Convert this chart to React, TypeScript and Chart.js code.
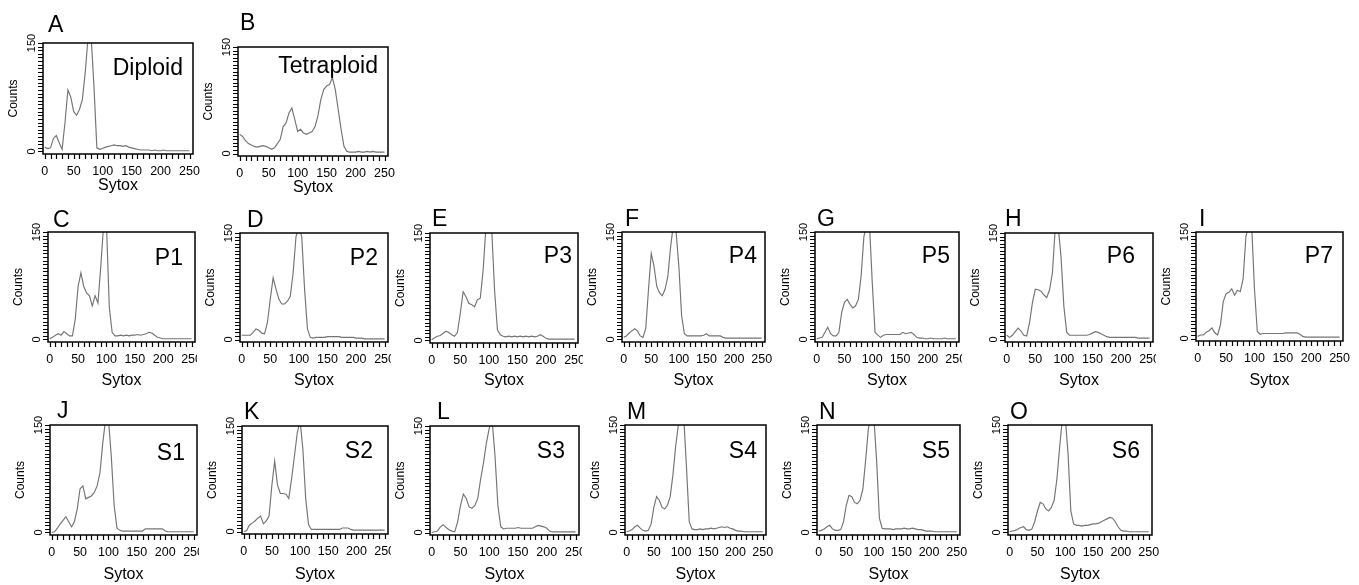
import React, { useEffect, useRef } from "react";
import { Chart, registerables } from "chart.js";
Chart.register(...registerables);

const FONT = "'Liberation Sans', Arial, Helvetica, sans-serif";
const LINE_COLOR = "#747474";

// Sytox channel (x) for each sample
const sytoxChannels = [0, 5, 10, 15, 20, 25, 30, 35, 40, 45, 50, 55, 60, 65, 70, 75, 80, 85, 90, 95, 100, 105, 110, 115, 120, 125, 130, 135, 140, 145, 150, 155, 160, 165, 170, 175, 180, 185, 190, 195, 200, 205, 210, 215, 220, 225, 230, 235, 240, 245, 250];
const xTickValues = [0, 10, 20, 30, 40, 50, 60, 70, 80, 90, 100, 110, 120, 130, 140, 150, 160, 170, 180, 190, 200, 210, 220, 230, 240, 250];
const xLabelValues = [0, 50, 100, 150, 200, 250];
const yTickValues = [0, 5, 10, 15, 20, 25, 30, 35, 40, 45, 50, 55, 60, 65, 70, 75, 80, 85, 90, 95, 100, 105, 110, 115, 120, 125, 130, 135, 140, 145, 150];
const yLabelValues = [0, 150];

// Counts per channel
const diploidA = [6, 4, 5, 18, 22, 12, 3, 40, 85, 75, 55, 50, 58, 72, 110, 160, 160, 90, 5, 3, 4, 6, 7, 8, 9, 8, 8, 7, 8, 6, 5, 4, 3, 2, 2, 2, 2, 1, 2, 1, 1, 2, 1, 1, 1, 1, 1, 1, 1, 1, 1];
const tetraploidB = [27, 24, 18, 14, 12, 10, 9, 10, 11, 10, 8, 6, 8, 14, 20, 38, 43, 57, 64, 48, 31, 34, 29, 27, 29, 31, 38, 53, 76, 90, 95, 97, 107, 90, 62, 34, 10, 3, 2, 2, 2, 3, 2, 2, 3, 2, 3, 2, 2, 2, 2];
const p1C = [1, 3, 6, 8, 6, 11, 8, 5, 5, 28, 74, 93, 74, 65, 61, 47, 61, 51, 102, 160, 160, 45, 10, 5, 5, 6, 5, 6, 5, 6, 6, 7, 6, 7, 8, 10, 9, 6, 3, 2, 1, 1, 1, 1, 1, 1, 1, 1, 1, 1, 1];
const p2D = [6, 6, 6, 6, 10, 15, 13, 9, 8, 24, 57, 87, 71, 57, 50, 50, 54, 61, 94, 145, 158, 145, 71, 15, 3, 2, 3, 3, 3, 3, 4, 4, 4, 4, 4, 3, 3, 3, 3, 3, 2, 2, 2, 1, 1, 1, 1, 1, 1, 1, 1];
const p3E = [1, 4, 6, 7, 10, 13, 11, 8, 6, 11, 38, 68, 61, 52, 50, 47, 57, 59, 98, 160, 160, 155, 70, 15, 8, 6, 5, 6, 5, 6, 5, 6, 5, 6, 5, 6, 5, 6, 8, 6, 3, 2, 2, 2, 2, 2, 2, 2, 2, 2, 2];
const p4F = [3, 5, 9, 12, 15, 12, 5, 3, 15, 70, 120, 102, 74, 65, 61, 70, 88, 129, 160, 150, 102, 33, 8, 5, 5, 5, 5, 5, 5, 6, 8, 5, 5, 5, 5, 5, 3, 2, 2, 2, 2, 2, 2, 2, 2, 2, 2, 2, 2, 2, 2];
const p5G = [1, 2, 3, 10, 17, 8, 5, 5, 10, 38, 52, 56, 49, 44, 47, 56, 89, 144, 160, 160, 79, 10, 6, 3, 6, 7, 7, 7, 7, 7, 7, 10, 8, 9, 10, 7, 3, 2, 2, 1, 1, 2, 1, 1, 1, 1, 2, 1, 1, 1, 1];
const p6H = [6, 3, 6, 11, 16, 12, 6, 5, 24, 52, 71, 70, 68, 63, 59, 70, 94, 158, 160, 117, 47, 10, 6, 6, 6, 6, 6, 6, 6, 7, 9, 11, 10, 8, 6, 4, 3, 3, 3, 3, 3, 3, 3, 3, 3, 3, 2, 2, 2, 2, 2];
const p7I = [3, 5, 5, 9, 11, 15, 8, 5, 19, 52, 63, 65, 70, 61, 68, 66, 84, 144, 160, 160, 70, 10, 6, 7, 7, 7, 7, 7, 7, 7, 7, 8, 8, 8, 8, 8, 6, 3, 2, 2, 2, 2, 2, 2, 2, 2, 2, 2, 2, 2, 2];
const s1J = [0, 1, 6, 12, 17, 22, 15, 8, 15, 33, 61, 65, 47, 49, 51, 56, 65, 83, 125, 158, 158, 106, 38, 6, 3, 2, 2, 2, 2, 2, 2, 2, 2, 5, 5, 5, 5, 5, 5, 5, 2, 1, 1, 1, 1, 1, 1, 1, 1, 1, 1];
const s2K = [0, 1, 9, 12, 15, 19, 22, 11, 15, 22, 66, 100, 66, 54, 54, 53, 47, 75, 107, 140, 158, 117, 47, 10, 3, 3, 3, 3, 3, 3, 3, 3, 3, 3, 3, 5, 5, 5, 3, 2, 2, 2, 2, 2, 2, 2, 2, 2, 2, 2, 2];
const s3L = [0, 1, 2, 8, 11, 7, 4, 2, 1, 15, 38, 54, 48, 36, 34, 38, 48, 75, 98, 126, 147, 158, 108, 38, 8, 5, 6, 6, 6, 6, 7, 6, 6, 6, 6, 6, 8, 10, 9, 8, 6, 2, 1, 1, 1, 1, 1, 1, 1, 1, 1];
const s4M = [1, 2, 4, 8, 10, 6, 3, 2, 3, 12, 35, 50, 45, 35, 33, 38, 50, 80, 120, 150, 160, 160, 90, 15, 5, 4, 4, 5, 4, 5, 5, 6, 5, 6, 7, 8, 7, 8, 6, 5, 3, 2, 2, 1, 1, 1, 1, 1, 1, 1, 1];
const s5N = [2, 3, 5, 8, 10, 5, 3, 3, 4, 15, 38, 52, 50, 42, 40, 45, 60, 100, 145, 160, 160, 100, 20, 6, 5, 5, 5, 4, 5, 5, 5, 6, 5, 5, 6, 5, 4, 4, 3, 2, 2, 2, 1, 1, 1, 1, 1, 1, 1, 1, 1];
const s6O = [1, 2, 3, 5, 7, 8, 4, 3, 5, 15, 30, 42, 40, 33, 30, 35, 45, 75, 120, 160, 160, 110, 30, 12, 10, 10, 9, 10, 10, 11, 12, 12, 13, 15, 17, 19, 21, 20, 15, 8, 3, 2, 2, 1, 1, 1, 1, 1, 1, 1, 1];

type Panel = {
  letter: string;
  label: string;
  values: number[];
  box: [number, number, number, number];
  letterX: number;
  letterY: number;
  labelRight: number;
  labelY: number;
  sytoxY: number;
  clipRight: number | null;
};

const panels: Panel[] = [
  { letter: "A", label: "Diploid", values: diploidA, box: [43, 43, 193, 154], letterX: 48, letterY: 32, labelRight: 183, labelY: 75, sytoxY: 186, clipRight: null },
  { letter: "B", label: "Tetraploid", values: tetraploidB, box: [238, 47, 388, 156], letterX: 240, letterY: 30, labelRight: 378, labelY: 73, sytoxY: 188, clipRight: null },
  { letter: "C", label: "P1", values: p1C, box: [48, 232, 195, 342], letterX: 53, letterY: 227, labelRight: 183, labelY: 265, sytoxY: 381, clipRight: 197 },
  { letter: "D", label: "P2", values: p2D, box: [240, 233, 388, 342], letterX: 247, letterY: 227, labelRight: 378, labelY: 265, sytoxY: 381, clipRight: 391 },
  { letter: "E", label: "P3", values: p3E, box: [430, 233, 578, 343], letterX: 432, letterY: 226, labelRight: 572, labelY: 263, sytoxY: 381, clipRight: 583 },
  { letter: "F", label: "P4", values: p4F, box: [622, 232, 765, 342], letterX: 625, letterY: 226, labelRight: 757, labelY: 263, sytoxY: 381, clipRight: null },
  { letter: "G", label: "P5", values: p5G, box: [815, 232, 959, 342], letterX: 817, letterY: 226, labelRight: 950, labelY: 263, sytoxY: 381, clipRight: 962 },
  { letter: "H", label: "P6", values: p6H, box: [1005, 233, 1153, 342], letterX: 1005, letterY: 226, labelRight: 1135, labelY: 263, sytoxY: 381, clipRight: 1156 },
  { letter: "I", label: "P7", values: p7I, box: [1196, 232, 1343, 341], letterX: 1199, letterY: 226, labelRight: 1333, labelY: 263, sytoxY: 381, clipRight: null },
  { letter: "J", label: "S1", values: s1J, box: [50, 425, 197, 535], letterX: 57, letterY: 418, labelRight: 185, labelY: 460, sytoxY: 575, clipRight: 199 },
  { letter: "K", label: "S2", values: s2K, box: [242, 426, 388, 534], letterX: 244, letterY: 419, labelRight: 373, labelY: 458, sytoxY: 575, clipRight: 391 },
  { letter: "L", label: "S3", values: s3L, box: [430, 426, 579, 535], letterX: 437, letterY: 419, labelRight: 565, labelY: 458, sytoxY: 575, clipRight: 582 },
  { letter: "M", label: "S4", values: s4M, box: [625, 425, 766, 535], letterX: 627, letterY: 419, labelRight: 757, labelY: 458, sytoxY: 575, clipRight: null },
  { letter: "N", label: "S5", values: s5N, box: [817, 425, 960, 535], letterX: 819, letterY: 419, labelRight: 950, labelY: 458, sytoxY: 575, clipRight: null },
  { letter: "O", label: "S6", values: s6O, box: [1008, 425, 1152, 535], letterX: 1010, letterY: 419, labelRight: 1140, labelY: 458, sytoxY: 575, clipRight: null },
];

const PAD_L = 48;
const PAD_T = 45;
const PAD_R = 16;
const PAD_B = 55;
const TICK_LEN = 5;
const X_MIN = -3;
const X_MAX = 256;
const Y_MIN = -3.5;
const Y_MAX = 150;

function makeDecor(p: Panel, ox: number, oy: number) {
  return {
    id: "panelDecor" + p.letter,
    afterDraw(chart: any) {
      const { ctx, chartArea: a, scales } = chart;
      ctx.save();
      // tick marks at the scale's own tick positions
      ctx.strokeStyle = "#000";
      ctx.lineWidth = 1.2;
      ctx.beginPath();
      for (const t of scales.x.ticks) {
        const x = Math.round(scales.x.getPixelForValue(t.value)) + 0.5;
        ctx.moveTo(x, a.bottom);
        ctx.lineTo(x, a.bottom + TICK_LEN);
      }
      for (const t of scales.y.ticks) {
        const y = Math.round(scales.y.getPixelForValue(t.value)) + 0.5;
        ctx.moveTo(a.left, y);
        ctx.lineTo(a.left - TICK_LEN, y);
      }
      ctx.stroke();
      // frame
      ctx.lineWidth = 1.5;
      ctx.strokeRect(a.left, a.top, a.right - a.left, a.bottom - a.top);
      ctx.fillStyle = "#000";
      ctx.textAlign = "center";
      ctx.textBaseline = "middle";
      ctx.font = `11px ${FONT}`;
      for (const v of yLabelValues) {
        const y = scales.y.getPixelForValue(v);
        ctx.save();
        ctx.translate(a.left - 11, y);
        ctx.rotate(-Math.PI / 2);
        ctx.fillText(String(v), 0, 0);
        ctx.restore();
      }
      ctx.font = `12px ${FONT}`;
      ctx.save();
      ctx.translate(a.left - 29, (a.top + a.bottom) / 2);
      ctx.rotate(-Math.PI / 2);
      ctx.fillText("Counts", 0, 0);
      ctx.restore();
      ctx.font = `16px ${FONT}`;
      ctx.fillText("Sytox", (a.left + a.right) / 2, p.sytoxY - oy);
      ctx.textBaseline = "alphabetic";
      ctx.font = `23px ${FONT}`;
      ctx.textAlign = "left";
      ctx.fillText(p.letter, p.letterX - ox, p.letterY - oy);
      ctx.textAlign = "right";
      ctx.fillText(p.label, p.labelRight - ox, p.labelY - oy);
      ctx.restore();
    },
  };
}

function HistPanel({ p }: { p: Panel }) {
  const ref = useRef<HTMLCanvasElement>(null);
  const [l, t, r, b] = p.box;
  const W = PAD_L + (r - l) + PAD_R;
  const H = PAD_T + (b - t) + PAD_B;
  const ox = l - PAD_L;
  const oy = t - PAD_T;

  useEffect(() => {
    if (!ref.current) return;
    const tickGrid = { display: false, drawTicks: true, tickLength: TICK_LEN };
    const chart = new Chart(ref.current, {
      type: "line",
      data: {
        datasets: [
          {
            data: sytoxChannels.map((x, i) => ({ x, y: p.values[i] })),
            borderColor: LINE_COLOR,
            borderWidth: 1.15,
            pointRadius: 0,
            tension: 0,
            fill: false,
          },
        ],
      },
      options: {
        animation: false,
        responsive: false,
        maintainAspectRatio: false,
        events: [],
        layout: { padding: { top: PAD_T, right: PAD_R, left: 0, bottom: 0 } },
        plugins: { legend: { display: false }, tooltip: { enabled: false }, title: { display: false } },
        scales: {
          x: {
            type: "linear",
            position: "bottom",
            min: X_MIN,
            max: X_MAX,
            afterBuildTicks: (s: any) => {
              s.ticks = xTickValues.map((v) => ({ value: v }));
            },
            afterFit: (s: any) => {
              s.height = PAD_B;
            },
            ticks: {
              autoSkip: false,
              maxRotation: 0,
              minRotation: 0,
              padding: 5,
              color: "#000",
              font: { family: FONT, size: 12.5 },
              callback: (v: any) => (xLabelValues.includes(Number(v)) ? String(v) : ""),
            },
            grid: tickGrid,
            border: { display: false },
          },
          y: {
            type: "linear",
            min: Y_MIN,
            max: Y_MAX,
            afterBuildTicks: (s: any) => {
              s.ticks = yTickValues.map((v) => ({ value: v }));
            },
            afterFit: (s: any) => {
              s.width = PAD_L;
            },
            ticks: { display: false },
            grid: tickGrid,
            border: { display: false },
          },
        },
      } as any,
      plugins: [makeDecor(p, ox, oy)],
    });
    return () => chart.destroy();
  }, []);

  const clipW = p.clipRight != null ? p.clipRight - ox : W;
  return (
    <div style={{ position: "absolute", left: ox, top: oy, width: clipW, height: H, overflow: "hidden" }}>
      <canvas ref={ref} width={W} height={H} style={{ width: W, height: H, display: "block" }} />
    </div>
  );
}

export default function App() {
  return (
    <div style={{ position: "absolute", left: 0, top: 0, width: 1359, height: 585, background: "#fff", overflow: "hidden" }}>
      {panels.map((p) => (
        <HistPanel key={p.letter} p={p} />
      ))}
    </div>
  );
}
